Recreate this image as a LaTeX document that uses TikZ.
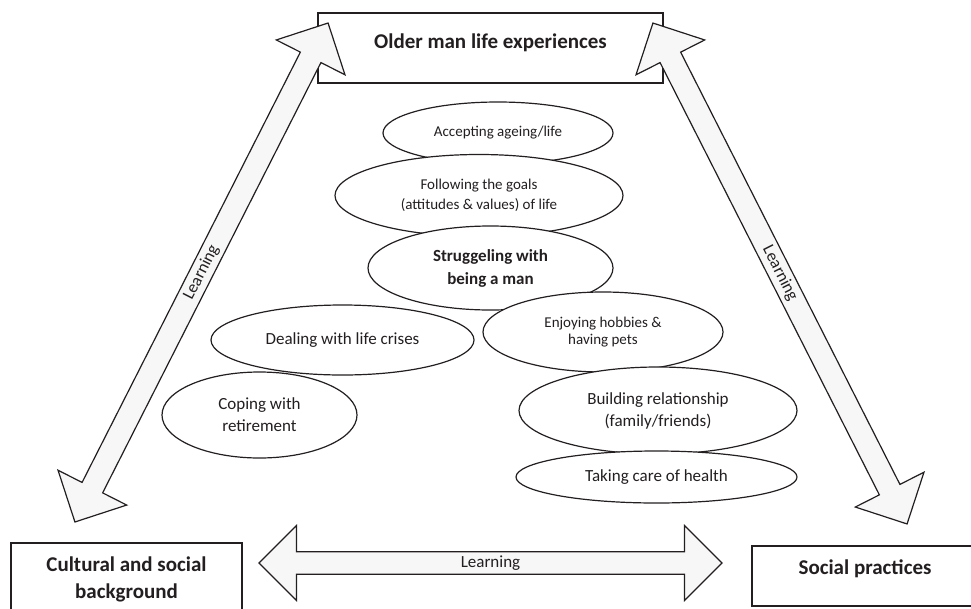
\documentclass[tikz,border=0pt]{standalone}
\usepackage{fontspec}
\setmainfont{Carlito}
\usetikzlibrary{shapes.geometric,shapes.arrows}
\definecolor{ink}{RGB}{35,31,32}
\definecolor{shaft}{RGB}{247,247,247}

\begin{document}
\begin{tikzpicture}[x=1pt, y=-1pt,
    bub/.style={ellipse, draw=ink, fill=white, text=ink, line width=1.2pt, inner sep=0pt, align=center,
                font=\fontsize{17}{22}\selectfont},
    smallbub/.style={bub, font=\fontsize{15}{20}\selectfont},
    topic/.style={rectangle, draw=ink, fill=white, text=ink, line width=1.2pt, inner sep=0pt,
                font=\bfseries\fontsize{21}{27}\selectfont},
    learn/.style={double arrow, draw=ink, fill=shaft, text=ink, line width=1.2pt, inner sep=0pt,
                double arrow head extend=18.5pt, minimum width=77pt,
                font=\fontsize{17}{20}\selectfont}]
    \useasboundingbox (0,0) rectangle (971,608);
    \clip (0,0) rectangle (971,608);

    \node[topic, minimum width=345pt, minimum height=70pt, text height=14pt, text depth=13pt] (older)   at (490.5, 48.0) {Older man life experiences};
    \node[topic, minimum width=231pt, minimum height=73pt, align=center]                       (culture) at (126.5,579.5) {Cultural and social\\background};
    \node[topic, minimum width=226pt, minimum height=60pt, text height=14pt, text depth=17pt] (practice) at (865.0,576.0) {Social practices};

    \node[learn, minimum height=559.5pt, rotate=63.1]                        (learnL) at (201.5,272.5) {Learning};
    \node[learn, minimum height=561.7pt, rotate=-63.1]                       (learnR) at (780.0,273.5) {Learning};
    \node[learn, minimum height=463pt, minimum width=75pt]                   (learnB) at (490.5,563.0) {Learning};

    \node[smallbub, minimum width=230pt, minimum height=62pt]                (accept)  at (498.0,133.0) {Accepting ageing/life};
    \node[smallbub, minimum width=288pt, minimum height=82pt]                (goals)   at (479.0,195.5) {Following the goals\\(attitudes \& values) of life};
    \node[bub, minimum width=245pt, minimum height=84pt, font=\bfseries\fontsize{17}{23}\selectfont]
                                                                             (man)     at (490.5,268.0) {Struggeling with\\being a man};
    \node[bub, minimum width=263pt, minimum height=70pt]                     (crisis)  at (342.5,340.0) {Dealing with life crises};
    \node[bub, minimum width=195pt, minimum height=86pt]                     (retire)  at (259.5,415.0) {Coping with\\retirement};
    \node[smallbub, minimum width=240pt, minimum height=80pt, font=\fontsize{15}{17}\selectfont]
                                                                             (hobby)   at (603.0,332.0) {Enjoying hobbies \&\\having pets};
    \node[bub, minimum width=278pt, minimum height=87pt]                     (family)  at (658.0,410.5) {Building relationship\\(family/friends)};
    \node[bub, minimum width=281pt, minimum height=52pt]                     (health)  at (656.5,477.0) {Taking care of health};
\end{tikzpicture}
\end{document}
